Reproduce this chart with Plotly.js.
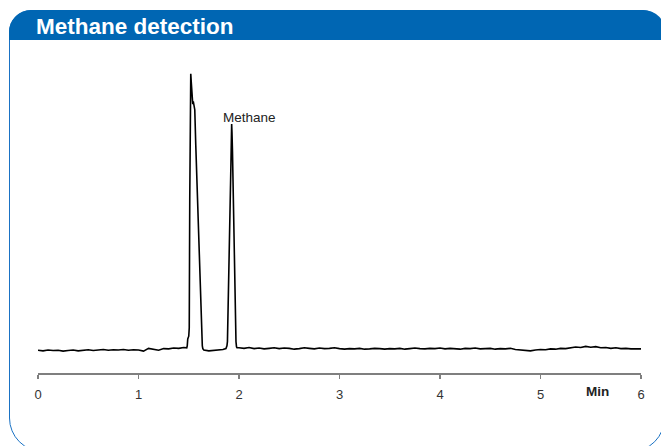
<!DOCTYPE html>
<html>
<head>
<meta charset="utf-8">
<script src="https://cdn.plot.ly/plotly-3.0.1.min.js"></script>
<style>
  html, body { margin: 0; padding: 0; background: #ffffff; }
  #wrap { position: relative; width: 661px; height: 446px; overflow: hidden; background: #fff; }
  #frame { position: absolute; left: 9px; top: 10px; width: 656px; height: 442px;
           border: 1.5px solid #1a72c4; border-radius: 22px 23px 34px 34px; box-sizing: border-box; }
  #header { position: absolute; left: 9px; top: 10px; width: 657px; height: 30px;
            background: #0066b3; border-radius: 22px 23px 0 0; }
  #chart { position: absolute; left: 0; top: 0; width: 661px; height: 446px; }
</style>
</head>
<body>
<div id="wrap">
  <div id="frame"></div>
  <div id="header"></div>
  <div id="chart"></div>
</div>
<script>
// Retention time (min)
const timeMin = [
  0.00, 0.05, 0.10, 0.15, 0.20, 0.25, 0.30, 0.35, 0.40, 0.45,
  0.50, 0.55, 0.60, 0.65, 0.70, 0.75, 0.80, 0.85, 0.90, 0.95,
  1.00, 1.05, 1.10, 1.15, 1.20, 1.25, 1.30, 1.35, 1.40, 1.45,
  1.48, 1.485, 1.49, 1.50, 1.505, 1.51, 1.515, 1.52, 1.525, 1.53,
  1.535, 1.54, 1.545, 1.55, 1.56, 1.57, 1.58, 1.59, 1.60, 1.61,
  1.62, 1.625, 1.63, 1.635, 1.64, 1.65, 1.70, 1.75, 1.80, 1.84,
  1.87, 1.88, 1.885, 1.89, 1.90, 1.91, 1.92, 1.925, 1.927, 1.93,
  1.935, 1.94, 1.95, 1.96, 1.965, 1.97, 1.975, 1.98,
  2.00, 2.05, 2.10, 2.15, 2.20, 2.25, 2.30, 2.35, 2.40, 2.45,
  2.50, 2.55, 2.60, 2.65, 2.70, 2.75, 2.80, 2.85, 2.90, 2.95,
  3.00, 3.05, 3.10, 3.15, 3.20, 3.25, 3.30, 3.35, 3.40, 3.45,
  3.50, 3.55, 3.60, 3.65, 3.70, 3.75, 3.80, 3.85, 3.90, 3.95,
  4.00, 4.05, 4.10, 4.15, 4.20, 4.25, 4.30, 4.35, 4.40, 4.45,
  4.50, 4.55, 4.60, 4.65, 4.70, 4.75, 4.80, 4.85, 4.90, 4.95,
  5.00, 5.05, 5.10, 5.15, 5.20, 5.25, 5.30, 5.35, 5.40, 5.45,
  5.50, 5.55, 5.60, 5.65, 5.70, 5.75, 5.80, 5.85, 5.90, 5.95,
  6.00
];
// Detector signal (arbitrary units)
const signal = [
  -0.1, -0.3, 0.0, -0.2, -0.1, -0.4, -0.2, 0.0, -0.3, -0.1,
  0.1, -0.2, 0.0, 0.2, -0.1, 0.1, 0.0, 0.2, -0.1, 0.1,
  0.0, -0.4, 0.6, 0.3, -0.1, 0.5, 0.4, 0.7, 0.6, 0.9,
  0.8, 1.5, 4.0, 5.0, 8.0, 55.0, 92.0, 100.0, 97.0, 93.0,
  94.0, 89.0, 90.0, 88.0, 87.0, 74.0, 62.0, 50.0, 38.0, 26.0,
  14.0, 8.0, 3.5, 1.5, 0.5, 0.0, -0.3, -0.2, 0.0, 0.2,
  0.5, 1.5, 3.0, 11.0, 30.0, 49.0, 68.0, 78.0, 81.8, 79.0,
  72.0, 61.0, 42.0, 21.0, 10.0, 3.0, 1.2, 0.8,
  0.8, 0.6, 0.9, 0.5, 0.7, 0.4, 0.6, 0.8, 0.5, 0.7,
  0.6, 0.3, 0.5, 0.8, 0.6, 0.4, 0.7, 0.5, 0.6, 0.8,
  0.5, 0.3, 0.5, 0.4, 0.6, 0.3, 0.4, 0.6, 0.5, 0.3,
  0.5, 0.4, 0.6, 0.3, 0.5, 0.7, 0.5, 0.4, 0.6, 0.5,
  0.7, 0.4, 0.6, 0.5, 0.3, 0.6, 0.5, 0.7, 0.4, 0.5,
  0.6, 0.3, 0.5, 0.4, 0.6, 0.2, 0.1, -0.1, -0.3, 0.0,
  0.2, 0.1, 0.4, 0.3, 0.6, 0.5, 0.8, 1.1, 0.9, 1.3,
  1.0, 1.2, 0.8, 0.9, 0.6, 0.8, 0.5, 0.6, 0.4, 0.5,
  0.4
];
const xTickVals = [0, 1, 2, 3, 4, 5, 6];
const xTickText = ["0", "1", "2", "3", "4", "5", "6"];
const peakLabel = "Methane";
const peakLabelPos = { x: 2.1, y: 84.2 };
const unitLabel = "Min";
const chartTitle = "Methane detection";

const trace = {
  x: timeMin, y: signal, type: "scatter", mode: "lines",
  line: { color: "#000000", width: 1.6 }, hoverinfo: "skip", showlegend: false
};

const layout = {
  width: 661, height: 446,
  margin: { l: 38, r: 20, t: 60, b: 73, pad: 0 },
  paper_bgcolor: "rgba(0,0,0,0)", plot_bgcolor: "rgba(0,0,0,0)",
  title: {
    text: chartTitle,
    font: { family: "Liberation Sans, Arial, sans-serif", size: 22.5, color: "#ffffff", weight: "bold" },
    xref: "container", yref: "container", x: 36 / 661, xanchor: "left",
    y: 1 - 26 / 446, yanchor: "middle"
  },
  xaxis: {
    range: [0, 6], tickvals: xTickVals, ticktext: xTickText,
    showgrid: false, zeroline: false, showline: true, linecolor: "#7f7f7f", linewidth: 1.7,
    ticks: "outside", ticklen: 4, tickwidth: 1.5, tickcolor: "#7f7f7f",
    ticklabelstandoff: 5,
    tickfont: { family: "Liberation Sans, Arial, sans-serif", size: 13, color: "#333333" }
  },
  yaxis: {
    range: [-8.33, 105], visible: false, showgrid: false, zeroline: false
  },
  annotations: [
    { x: peakLabelPos.x, y: peakLabelPos.y, xref: "x", yref: "y", text: peakLabel, showarrow: false,
      xanchor: "center", yanchor: "middle",
      font: { family: "Liberation Sans, Arial, sans-serif", size: 13.5, color: "#222222" } },
    { x: (597 - 38) / 603, y: -((391.5 - 373) / 313), xref: "paper", yref: "paper", text: "<b>" + unitLabel + "</b>",
      showarrow: false, xanchor: "center", yanchor: "middle",
      font: { family: "Liberation Sans, Arial, sans-serif", size: 13.5, color: "#222222" } }
  ]
};

Plotly.newPlot("chart", [trace], layout, { staticPlot: true, displayModeBar: false });
</script>
</body>
</html>
